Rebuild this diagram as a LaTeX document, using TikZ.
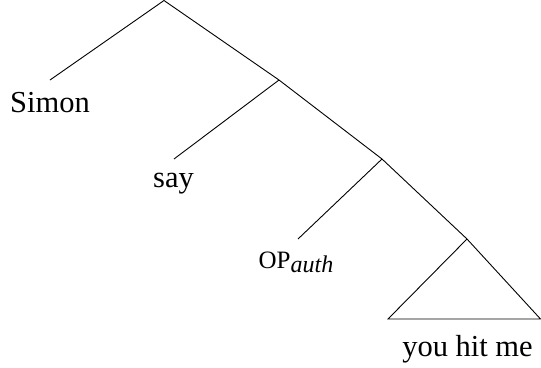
\documentclass[tikz,border=0pt]{standalone}
\usepackage{fontspec}
\setmainfont{Liberation Serif}
\begin{document}
\begin{tikzpicture}[x=1pt,y=-1pt,
  branch/.style={line width=0.9pt},
  leaf/.style={anchor=base,inner sep=0pt,font=\fontsize{30.5}{36}\selectfont}]
\useasboundingbox (0,0) rectangle (541,367);
% branching points
\coordinate (root) at (164,0.5);
\coordinate (n1) at (279,80);
\coordinate (n2) at (382,159);
\coordinate (n3) at (467,239);
% leaf attachment points
\coordinate (lSimon) at (50,80);
\coordinate (lsay) at (174,159);
\coordinate (lop) at (298,239);
\coordinate (tl) at (388,319);
\coordinate (tr) at (540.5,319);
% branches
\draw[branch] (lSimon) -- (root) -- (n1) -- (n2) -- (n3) -- (tr) -- (tl) -- (n3);
\draw[branch] (n1) -- (lsay);
\draw[branch] (n2) -- (lop);
% labels
\node[leaf] (simon) at (50,112) {Simon};
\node[leaf] (say) at (173.5,187) {say};
\node[leaf,font=\fontsize{25}{30}\selectfont] (op) at (296,268)
  {OP\raisebox{-4pt}{\fontsize{24}{28}\selectfont\itshape auth}};
\node[leaf] (yhm) at (467.5,356) {you hit me};
\end{tikzpicture}
\end{document}
